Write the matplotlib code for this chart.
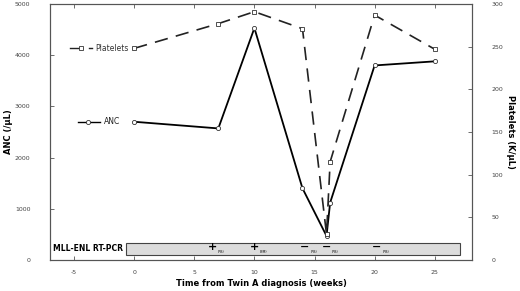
import matplotlib
matplotlib.use("Agg")
import matplotlib.pyplot as plt
from matplotlib.patches import Rectangle

anc_weeks = [0, 7, 10, 14, 16, 16.3, 20, 25]
anc_values = [2700, 2570, 4530, 1400, 470, 1120, 3800, 3880]
plt_weeks = [0, 7, 10, 14, 16, 16.3, 20, 25]
plt_values = [248, 277, 291, 271, 30, 115, 287, 247]
pcr_weeks = [6.5, 10, 14.2, 16, 20.2]
pcr_signs = ["+", "+", "\u2212", "\u2212", "\u2212"]
pcr_sites = ["(PB)", "(BM)", "(PB)", "(PB)", "(PB)"]
x_ticks = [-5, 0, 5, 10, 15, 20, 25]
anc_ticks = [0, 1000, 2000, 3000, 4000, 5000]
plt_ticks = [0, 50, 100, 150, 200, 250, 300]

fig = plt.figure(figsize=(5.2, 2.91), dpi=100)
ax = fig.add_axes([50/520, 1 - 260/291, (472-50)/520, (260-4)/291])
ax2 = ax.twinx()

spine_col = "#555555"
for a in (ax, ax2):
    for s in a.spines.values():
        s.set_color(spine_col)
        s.set_linewidth(0.8)

ax.plot(anc_weeks, anc_values, color="black", lw=1.3, marker="o", ms=3,
        mfc="white", mec="#333333", mew=0.6, zorder=3)
ax2.plot(plt_weeks, plt_values, color="#222222", lw=1.2, dashes=(8, 5), marker="s", ms=3.5,
         mfc="white", mec="#333333", mew=0.6, zorder=3)

ax.set_xlim(-7, 28.1)
ax.set_ylim(0, 5000)
ax2.set_ylim(0, 300)
ax.set_xticks(x_ticks)
ax.set_xticklabels([str(t) if t >= 0 else "-" + str(-t) for t in x_ticks])
ax.set_yticks(anc_ticks)
ax2.set_yticks(plt_ticks)
ax.tick_params(axis="both", direction="in", labelsize=4.5, length=3, width=0.6,
               colors=spine_col, labelcolor="#444444", top=True)
ax2.tick_params(axis="y", direction="in", labelsize=4.5, length=3, width=0.6,
                colors=spine_col, labelcolor="#444444")
ax.tick_params(axis="y", pad=14)
ax2.tick_params(axis="y", pad=14)
ax.tick_params(axis="x", pad=7)

fig.text(9/520, 1 - 132/291, "ANC (/\u00b5L)", fontsize=6, fontweight="bold",
         rotation=90, ha="center", va="center")
fig.text(511/520, 1 - 132/291, "Platelets (K/\u00b5L)", fontsize=6, fontweight="bold",
         rotation=270, ha="center", va="center")
ax.set_xlabel("Time from Twin A diagnosis (weeks)", fontsize=6, fontweight="bold", labelpad=3)

# RT-PCR bar
box_y0, box_y1 = 100, 330
ax.add_patch(Rectangle((-0.7, box_y0), 27.8, box_y1 - box_y0, facecolor="#dcdcdc",
                       edgecolor="#444444", lw=0.8, zorder=2))
ax.text(-0.9, (box_y0 + box_y1) / 2, "MLL-ENL RT-PCR", ha="right", va="center",
        fontsize=5.5, fontweight="bold")
for w, s, site in zip(pcr_weeks, pcr_signs, pcr_sites):
    ax.text(w, (box_y0 + box_y1) / 2 + 40, s, ha="center", va="center", fontsize=8,
            fontweight="bold", zorder=4)
    ax.text(w + 0.45, box_y0 + 60, site, ha="left", va="center", fontsize=2.3, zorder=4)

# Legend-like labels
ax2.plot([-5.3, -4.3], [248, 248], color="#222222", lw=1.0, zorder=3)
ax2.plot([-4.4], [248], marker="s", ms=3.5, mfc="white", mec="#333333", mew=0.6, zorder=4)
ax2.plot([-3.75, -3.5], [248, 248], color="#222222", lw=1.0)
ax2.text(-3.2, 248, "Platelets", ha="left", va="center", fontsize=5.5, color="#333333")
ax.plot([-4.7, -2.8], [2700, 2700], color="black", lw=1.0, zorder=3)
ax.plot([-3.8], [2700], marker="o", ms=3, mfc="white", mec="#333333", mew=0.6, zorder=4)
ax.text(-2.5, 2700, "ANC", ha="left", va="center", fontsize=5.5, color="#222222")

fig.savefig("out.png", dpi=100)
